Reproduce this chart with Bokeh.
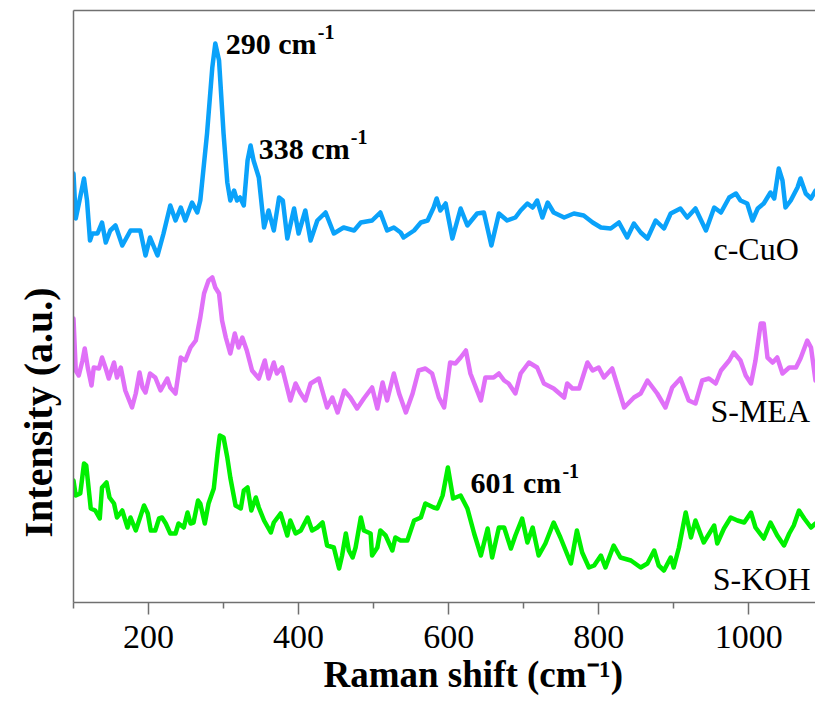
from bokeh.plotting import figure
from bokeh.models import Label, FixedTicker, Range1d, Title, LinearAxis
from bokeh.embed import file_html
from bokeh.resources import INLINE

# ---- data (Raman shift in cm-1, stacked intensity in a.u.) ----
cuo_x = [100,103,108,114,118,122,125,132,138,143,149,156,165,176,189,196,202,212,220,229,236,243,249,258,265,269,278,285,289,294,300,305,309,314,318,322,327,332,336,340,347,354,360,367,374,379,385,394,400,409,416,425,436,447,460,474,483,498,509,518,527,536,540,554,563,572,580,584,589,596,605,616,625,638,647,657,667,678,689,696,705,712,718,725,732,740,754,767,780,792,803,816,827,838,847,856,865,876,887,896,909,918,929,943,954,963,974,983,989,998,1005,1012,1020,1029,1034,1040,1045,1049,1056,1065,1069,1076,1083,1089]
cuo_y = [429,384,402,424,402,362,369,369,380,360,372,377,357,372,372,347,365,347,369,397,382,395,382,400,390,402,469,535,559,542,469,420,402,412,402,405,397,442,457,442,425,375,392,372,405,402,364,394,369,392,362,382,390,369,375,372,380,382,390,372,375,370,365,372,380,382,395,404,392,399,364,394,377,389,390,357,389,382,385,392,399,395,402,385,400,390,385,389,387,380,375,374,380,365,379,370,364,382,374,389,394,385,394,372,395,390,405,409,402,399,382,394,399,410,404,434,422,395,402,415,424,409,404,412]

mea_x = [100,103,107,112,115,119,124,127,134,138,143,147,154,158,163,169,178,183,188,192,196,202,209,216,225,229,236,243,249,256,263,269,274,280,285,289,294,298,303,309,315,320,325,331,338,347,355,360,367,371,378,389,396,402,409,416,427,438,445,452,461,469,478,487,498,505,512,518,527,534,543,552,560,569,578,587,594,602,609,616,623,629,643,649,660,667,674,680,689,696,707,718,727,740,754,758,765,774,785,792,800,807,818,834,847,856,865,878,889,898,909,920,929,938,947,956,963,974,980,989,996,1003,1009,1016,1020,1025,1032,1038,1045,1054,1063,1069,1078,1083,1089]
mea_y = [284,232,227,242,254,235,217,235,234,245,234,224,240,225,235,212,195,209,230,215,210,229,225,212,224,215,209,245,242,255,262,285,309,322,325,315,309,282,265,249,269,255,265,252,232,224,242,224,240,229,235,202,219,210,202,219,224,195,205,190,212,205,194,204,215,194,220,202,229,209,190,209,232,234,229,205,195,240,239,245,252,229,202,225,225,229,222,219,209,229,240,235,219,214,205,219,214,214,240,232,235,225,234,195,205,209,222,209,195,215,224,202,199,222,224,219,232,242,250,242,227,219,242,279,279,245,240,245,229,235,235,244,262,255,222]

koh_x = [100,103,109,114,117,123,129,135,138,144,148,154,158,165,172,176,183,194,199,203,209,214,218,223,229,236,240,247,252,256,260,266,269,275,280,287,292,295,300,305,309,316,323,327,332,337,343,347,354,363,367,376,385,389,396,403,412,418,425,432,438,447,454,458,463,467,472,476,483,487,496,498,505,509,516,525,529,536,545,554,563,569,580,585,592,599,606,616,625,634,643,652,658,667,674,683,689,698,705,712,720,729,740,749,763,771,778,787,794,803,809,820,829,843,856,865,874,880,887,896,900,907,916,923,929,940,954,958,967,976,985,994,1003,1009,1020,1029,1038,1047,1054,1060,1067,1074,1083,1089]
koh_y = [122,107,109,139,137,94,92,84,115,120,105,99,85,92,75,85,72,97,89,72,72,84,85,79,69,69,79,75,90,79,80,102,99,79,99,114,149,167,165,145,125,97,94,112,115,92,105,95,82,70,80,89,67,82,69,72,85,72,75,80,57,55,34,47,69,52,45,55,85,72,69,47,55,72,67,52,65,62,62,82,85,99,95,94,107,135,104,107,94,69,47,74,45,75,75,54,67,84,60,75,47,59,80,65,39,72,50,35,37,47,35,57,45,42,35,39,52,37,32,45,35,55,90,65,82,60,77,59,74,85,82,80,90,75,64,80,67,57,69,77,92,84,75,79]

x_ticks = [200, 400, 600, 800, 1000]
x_minor = [100, 300, 500, 700, 900, 1100]

sample_names = ["c-CuO", "S-MEA", "S-KOH"]
sample_colors = ["#0aa2fa", "#e070f8", "#00f000"]

# peak annotations: (text, x, y)
peak_text = ["290 cm", "338 cm", "601 cm"]
peak_x = [303, 347, 629]
peak_y = [559, 454, 120]

# sample label anchors
name_x = [953, 949, 952]
name_y = [354, 192, 24]

x_title = "Raman shift (cm\u207b\u00b9)"
y_title = "Intensity (a.u.)"

SERIF = "Liberation Serif"
AXIS_COLOR = "#707070"

p = figure(width=815, height=704,
           x_range=Range1d(100, 1089), y_range=Range1d(0, 592),
           output_backend="svg", toolbar_location=None,
           min_border_left=73, min_border_right=0,
           min_border_top=10, min_border_bottom=102)

p.background_fill_color = "white"
p.border_fill_color = "white"
p.xgrid.visible = False
p.ygrid.visible = False
p.outline_line_color = None

for xs, ys, c in [(cuo_x, cuo_y, sample_colors[0]),
                  (mea_x, mea_y, sample_colors[1]),
                  (koh_x, koh_y, sample_colors[2])]:
    p.line(xs, ys, line_color=c, line_width=4.5, line_join="round", line_cap="round")

# x axis
xa = p.xaxis[0]
xa.ticker = FixedTicker(ticks=x_ticks, minor_ticks=x_minor)
xa.axis_line_color = AXIS_COLOR
xa.axis_line_width = 1.5
xa.major_tick_line_color = AXIS_COLOR
xa.minor_tick_line_color = AXIS_COLOR
xa.major_tick_line_width = 1.5
xa.minor_tick_line_width = 1.5
xa.major_tick_out = 12
xa.major_tick_in = 0
xa.minor_tick_out = 6
xa.minor_tick_in = 0
xa.major_label_text_font = SERIF
xa.major_label_text_font_size = "34px"
xa.major_label_text_color = "black"
xa.major_label_standoff = 11

# y axis (no ticks)
ya = p.yaxis[0]
ya.ticker = FixedTicker(ticks=[])
ya.axis_line_color = AXIS_COLOR
ya.axis_line_width = 1.5
ya.major_tick_line_color = None
ya.minor_tick_line_color = None

# top frame line
top = LinearAxis(ticker=FixedTicker(ticks=[]), axis_line_color=AXIS_COLOR, axis_line_width=1.5,
                 major_tick_line_color=None, minor_tick_line_color=None,
                 major_label_text_font_size="0px")
p.add_layout(top, "above")

# axis titles as side titles (allow offset along the axis)
p.add_layout(Title(text=x_title, text_font=SERIF, text_font_style="bold",
                   text_font_size="37px", text_color="black", align="left",
                   offset=250, standoff=3), "below")
p.add_layout(Title(text=y_title, text_font=SERIF, text_font_style="bold",
                   text_font_size="40px", text_color="black", align="left",
                   offset=65, standoff=26), "left")

# peak annotations
for t, xx, yy in zip(peak_text, peak_x, peak_y):
    p.add_layout(Label(x=xx, y=yy, text=t, text_font=SERIF, text_font_style="bold",
                       text_font_size="30px", text_color="black", text_baseline="alphabetic"))
    p.add_layout(Label(x=xx, y=yy, x_offset=92, y_offset=12, text="-1", text_font=SERIF,
                       text_font_style="bold", text_font_size="20px", text_color="black",
                       text_baseline="alphabetic"))

# sample names
for t, xx, yy in zip(sample_names, name_x, name_y):
    p.add_layout(Label(x=xx, y=yy, text=t, text_font=SERIF, text_font_size="32px",
                       text_color="black", text_baseline="alphabetic"))

open("out.html", "w").write(file_html(p, INLINE))
